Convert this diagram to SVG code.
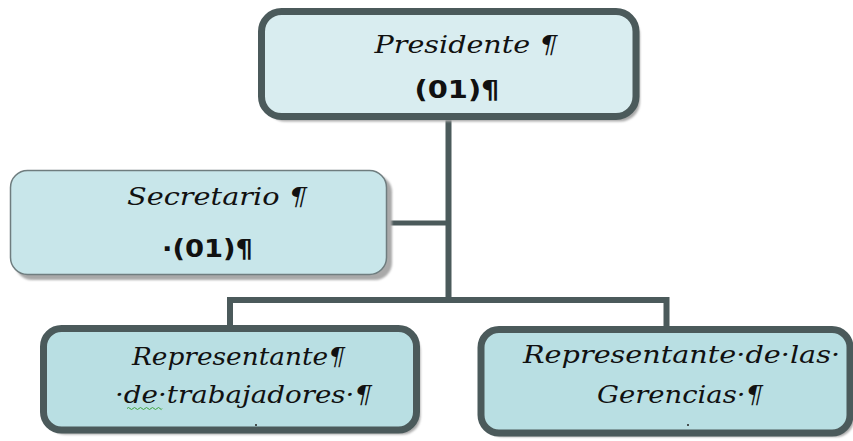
<svg xmlns="http://www.w3.org/2000/svg" width="853" height="441" viewBox="0 0 853 441">
  <defs>
    <filter id="soft" x="-10%" y="-10%" width="120%" height="130%">
      <feGaussianBlur stdDeviation="1.2"/>
    </filter>
  </defs>
  <style>
    .shadow { fill: #a9a9a9; filter: url(#soft); }
    .thick { stroke: #4b5a5b; stroke-width: 7; }
    .thin { stroke: #6f7d7f; stroke-width: 1.5; }
    .script { font-family: "DejaVu Serif", "Liberation Serif", serif; font-style: italic; font-size: 25px; fill: #111; }
    .num { font-family: "DejaVu Sans", "Liberation Sans", sans-serif; font-weight: bold; font-size: 24px; fill: #111; }
    .conn { fill: none; stroke: #4b5a5b; stroke-linejoin: miter; stroke-linecap: square; }
  </style>

  <rect width="853" height="441" fill="#ffffff"/>

  <!-- connectors -->
  <g id="connectors">
    <path class="conn" stroke-width="6" d="M448.5,118 V300"/>
    <path class="conn" stroke-width="5" d="M389,223 H448"/>
    <path class="conn" stroke-width="6" d="M230,326 V300 H666.5 V326"/>
  </g>

  <!-- Presidente -->
  <g id="presidente">
    <rect class="shadow" x="265.5" y="15.5" width="374.5" height="106" rx="20"/>
    <rect class="thick" x="261.5" y="11.5" width="374.5" height="105" rx="20" fill="#d9edf0"/>
    <text class="script" x="466" y="53" text-anchor="middle" textLength="183" lengthAdjust="spacingAndGlyphs">Presidente ¶</text>
    <text class="num" x="457" y="98" text-anchor="middle" textLength="85" lengthAdjust="spacingAndGlyphs">(01)¶</text>
  </g>

  <!-- Secretario -->
  <g id="secretario">
    <rect class="shadow" x="15" y="175" width="377" height="105" rx="17"/>
    <rect class="thin" x="10.5" y="170.5" width="376" height="104" rx="17" fill="#c8e6ea"/>
    <text class="script" x="217" y="205" text-anchor="middle" textLength="180" lengthAdjust="spacingAndGlyphs">Secretario ¶</text>
    <text class="num" x="207.5" y="257" text-anchor="middle" textLength="91" lengthAdjust="spacingAndGlyphs">·(01)¶</text>
  </g>

  <!-- Representante de trabajadores -->
  <g id="rep-trabajadores">
    <rect class="shadow" x="47.5" y="332.5" width="373" height="102" rx="18"/>
    <rect class="thick" x="43.5" y="328.5" width="373" height="101.5" rx="18" fill="#b9dfe3"/>
    <text class="script" x="238.5" y="365" text-anchor="middle" textLength="213" lengthAdjust="spacingAndGlyphs">Representante¶</text>
    <text class="script" x="243.5" y="403" text-anchor="middle" textLength="257" lengthAdjust="spacingAndGlyphs">·de·trabajadores·¶</text>
    <path d="M127,408.5 q1.5,-2 3,0 t3,0 t3,0 t3,0 t3,0 t3,0 t3,0 t3,0 t3,0 t3,0 t3,0 t2,0" fill="none" stroke="#3fa33f" stroke-width="1"/>
    <circle cx="256" cy="425" r="1" fill="#222"/>
  </g>

  <!-- Representante de las Gerencias -->
  <g id="rep-gerencias">
    <rect class="shadow" x="485" y="333" width="369" height="104" rx="18"/>
    <rect class="thick" x="481" y="329.5" width="369" height="103.5" rx="18" fill="#b9dfe3"/>
    <text class="script" x="681.5" y="363" text-anchor="middle" textLength="317" lengthAdjust="spacingAndGlyphs">Representante·de·las·</text>
    <text class="script" x="680" y="403" text-anchor="middle" textLength="166" lengthAdjust="spacingAndGlyphs">Gerencias·¶</text>
    <circle cx="688" cy="425" r="1" fill="#222"/>
  </g>
</svg>
